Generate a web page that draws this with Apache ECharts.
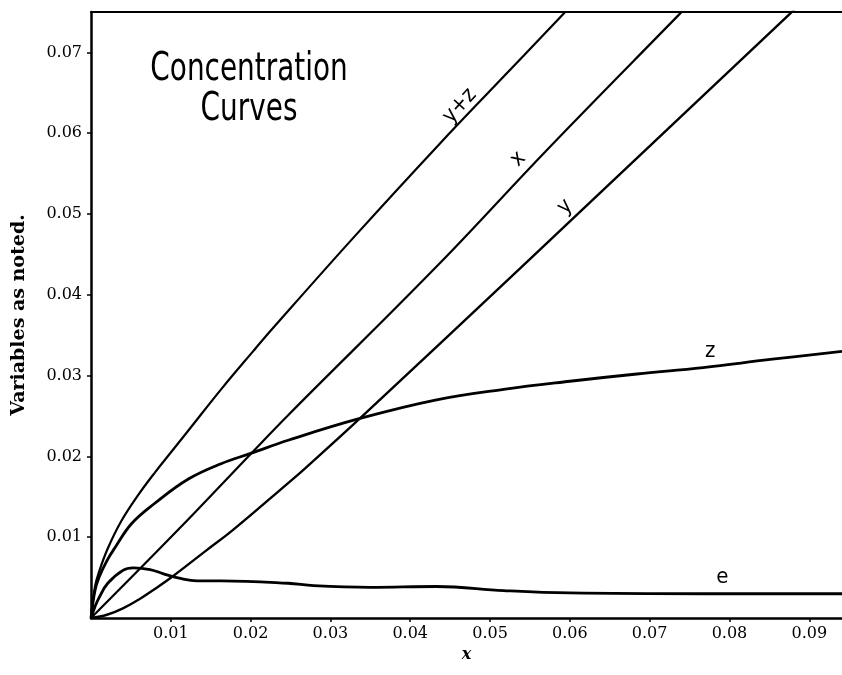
<!DOCTYPE html>
<html>
<head>
<meta charset="utf-8">
<script src="https://cdn.jsdelivr.net/npm/echarts@6/dist/echarts.min.js"></script>
<style>
  html, body { margin: 0; padding: 0; background: #fff; }
  #chart { width: 842px; height: 675px; }
</style>
</head>
<body>
<div id="chart"></div>
<script>
// values: [x, value]
const curveYZ = [
  [0, 0], [0.0005, 0.0039], [0.001, 0.0057], [0.0021, 0.0086], [0.0038, 0.0120],
  [0.0059, 0.0152], [0.0080, 0.0180], [0.0101, 0.0206], [0.0122, 0.0232],
  [0.0163, 0.0283], [0.0203, 0.0330], [0.0230, 0.0361], [0.0330, 0.0472],
  [0.0437, 0.0587], [0.0515, 0.0668], [0.0600, 0.0756]
]
const curveX = [
  [0, 0], [0.0111, 0.0111], [0.0201, 0.0204], [0.0247, 0.0251],
  [0.0437, 0.0439], [0.0571, 0.0579], [0.0738, 0.0748], [0.0750, 0.0760]
]
const curveY = [
  [0, 0], [0.002, 0.0004], [0.004, 0.0012], [0.006, 0.0023], [0.008, 0.0036],
  [0.0103, 0.0052], [0.0145, 0.0084], [0.0178, 0.0109], [0.0247, 0.0167],
  [0.0268, 0.0185], [0.0337, 0.0247], [0.0538, 0.0433], [0.0613, 0.0503],
  [0.0876, 0.0748], [0.0890, 0.0761]
]
const curveZ = [
  [0, 0], [0.0005, 0.0034], [0.001, 0.0050], [0.002, 0.0071], [0.003, 0.0087],
  [0.0051, 0.0117], [0.0080, 0.0142], [0.0122, 0.0172], [0.0163, 0.0191],
  [0.0201, 0.0204], [0.0247, 0.0220], [0.0337, 0.0247], [0.0433, 0.0270],
  [0.0517, 0.0283], [0.0600, 0.0293], [0.0684, 0.0302], [0.0767, 0.0310],
  [0.0851, 0.0320], [0.0941, 0.0330]
]
const curveE = [
  [0, 0], [0.0005, 0.0014], [0.001, 0.0025], [0.0021, 0.0043], [0.0040, 0.0059],
  [0.0053, 0.0062], [0.0074, 0.0060], [0.0090, 0.0055], [0.0112, 0.0049],
  [0.0133, 0.0046], [0.0163, 0.0046], [0.0247, 0.0043], [0.0279, 0.0040],
  [0.0350, 0.0038], [0.0433, 0.0039], [0.0517, 0.0034], [0.0600, 0.0031],
  [0.0767, 0.0030], [0.0941, 0.0030]
]
// curve names and where they are written: [text, x, value, angle]
const curveLabels = [
  ['y+z', 0.0462, 0.0634, 48],
  ['x', 0.0535, 0.0568, 45],
  ['y', 0.0594, 0.0509, 45],
  ['z', 0.0776, 0.0330, 0],
  ['e', 0.0791, 0.0050, 0]
]
const titleLines = ['Concentration', 'Curves']

const serif = '"DejaVu Serif", "Liberation Serif", serif'
const hand = '"DejaVu Sans Condensed", "DejaVu Sans", sans-serif'

const chart = echarts.init(document.getElementById('chart'))

function lineSeries(data, width) {
  return {
    type: 'line',
    data: data,
    smooth: 0.4,
    symbol: 'none',
    clip: true,
    lineStyle: { color: '#000', width: width },
    silent: true
  }
}

const tickFormat = (v) => (v > 0 && Math.abs(v * 100 - Math.round(v * 100)) < 1e-6 ? v.toFixed(2) : '')

chart.setOption({
  backgroundColor: '#fff',
  animation: false,
  grid: { left: 91, top: 12, right: 0, bottom: 57 },
  xAxis: [
    {
      type: 'value',
      min: 0, max: 0.0941, interval: 0.01,
      name: 'x',
      nameLocation: 'middle',
      nameGap: 12,
      nameTextStyle: { fontFamily: serif, fontStyle: 'italic', fontWeight: 'bold', fontSize: 16, color: '#000' },
      axisLine: { lineStyle: { color: '#000', width: 2.5 } },
      axisTick: { inside: false, length: 4, lineStyle: { color: '#000', width: 1.5 } },
      axisLabel: {
        margin: 8, color: '#000', fontFamily: serif, fontSize: 16,
        showMinLabel: false, showMaxLabel: false, formatter: tickFormat
      },
      splitLine: { show: false }
    },
    {
      // top frame line only
      type: 'value', position: 'top',
      min: 0, max: 0.0941,
      axisLine: { lineStyle: { color: '#000', width: 2 } },
      axisTick: { show: false }, axisLabel: { show: false }, splitLine: { show: false }
    }
  ],
  yAxis: {
    type: 'value',
    min: 0, max: 0.075, interval: 0.01,
    name: 'Variables as noted.',
    nameLocation: 'middle',
    nameGap: 62,
    nameTextStyle: { fontFamily: serif, fontWeight: 'bold', fontSize: 19, color: '#000' },
    axisLine: { lineStyle: { color: '#000', width: 2.5 } },
    axisTick: { inside: false, length: 4, lineStyle: { color: '#000', width: 1.5 } },
    axisLabel: {
      margin: 9, color: '#000', fontFamily: serif, fontSize: 16,
      showMinLabel: false, showMaxLabel: false, formatter: tickFormat
    },
    splitLine: { show: false }
  },
  series: [
    lineSeries(curveYZ, 2.2),
    lineSeries(curveX, 2.2),
    lineSeries(curveY, 2.4),
    lineSeries(curveZ, 2.8),
    lineSeries(curveE, 2.8)
  ]
})

// titles and curve names, placed from data coordinates
const graphics = titleLines.map((t, i) => ({
  type: 'text',
  x: 249, y: 70 + i * 40,
  scaleY: 1.25,
  style: {
    text: t, fill: '#000', font: '31px ' + hand,
    textAlign: 'center', textVerticalAlign: 'middle', align: 'center', verticalAlign: 'middle'
  }
}))
curveLabels.forEach(([t, vx, vy, ang]) => {
  const p = chart.convertToPixel({ gridIndex: 0 }, [vx, vy])
  graphics.push({
    type: 'text',
    x: p[0], y: p[1],
    rotation: ang * Math.PI / 180,
    style: {
      text: t, fill: '#000', font: '22px ' + hand,
      textAlign: 'center', textVerticalAlign: 'middle', align: 'center', verticalAlign: 'middle'
    }
  })
})
chart.setOption({ graphic: graphics })
</script>
</body>
</html>
